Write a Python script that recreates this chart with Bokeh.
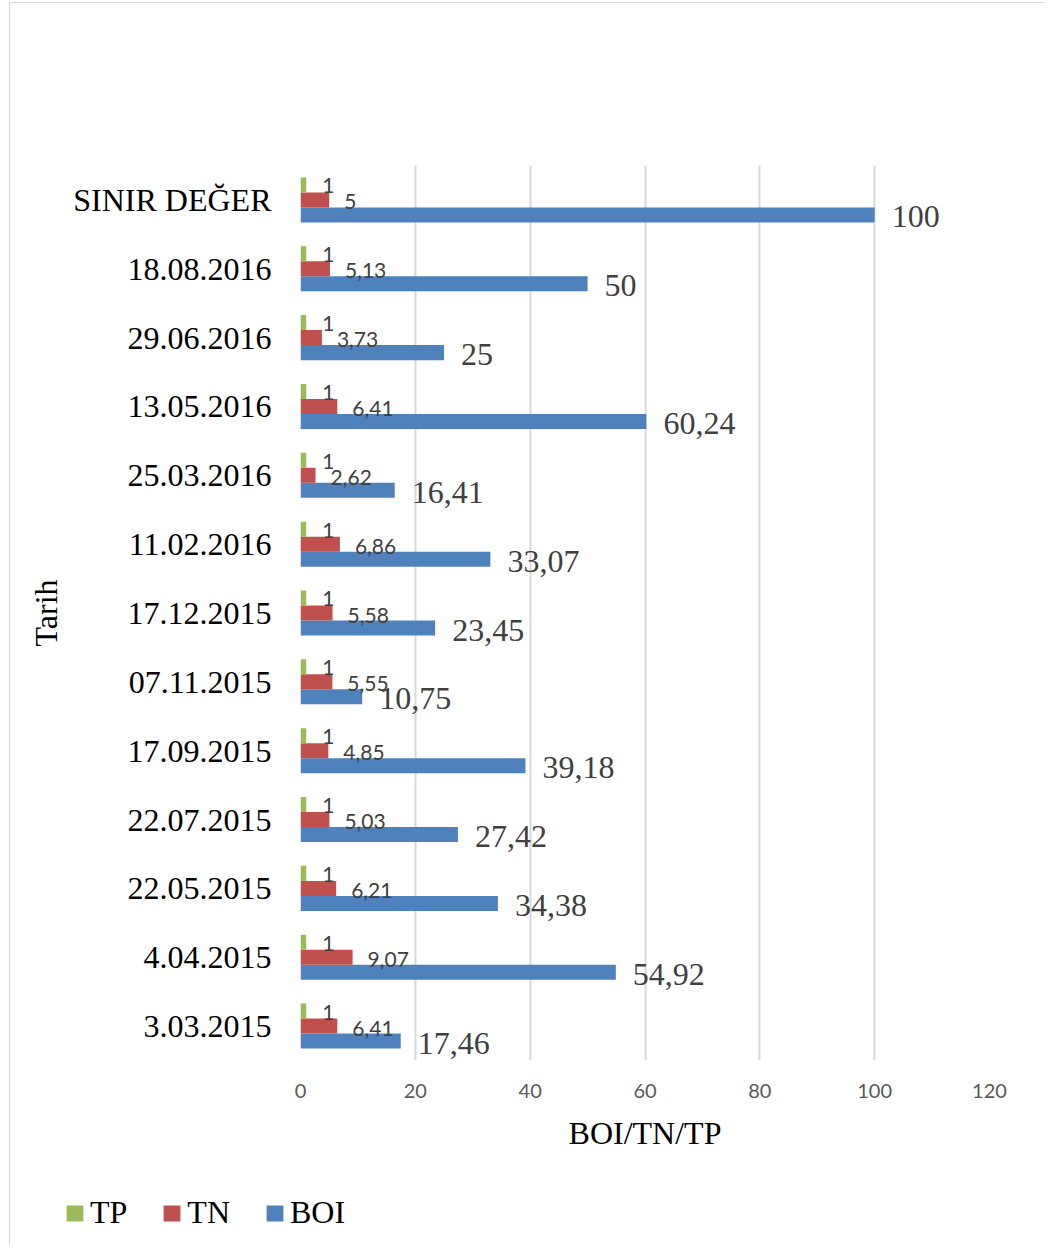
from bokeh.plotting import figure
from bokeh.layouts import column
from bokeh.models import (Range1d, FixedTicker, Legend, LegendItem, ColumnDataSource)
from bokeh.core.properties import value
from bokeh.embed import file_html
from bokeh.resources import INLINE

# ---- data (bottom to top) ----
categories = ["3.03.2015", "4.04.2015", "22.05.2015", "22.07.2015", "17.09.2015",
              "07.11.2015", "17.12.2015", "11.02.2016", "25.03.2016", "13.05.2016",
              "29.06.2016", "18.08.2016", "SINIR DEĞER"]
boi = [17.46, 54.92, 34.38, 27.42, 39.18, 10.75, 23.45, 33.07, 16.41, 60.24, 25, 50, 100]
tn = [6.41, 9.07, 6.21, 5.03, 4.85, 5.55, 5.58, 6.86, 2.62, 6.41, 3.73, 5.13, 5]
tp = [1, 1, 1, 1, 1, 1, 1, 1, 1, 1, 1, 1, 1]
x_ticks = [0, 20, 40, 60, 80, 100, 120]
series = ["TP", "TN", "BOI"]

C_TP = "#9BBB59"
C_TN = "#C0504D"
C_BOI = "#4F81BD"
SERIF = "Liberation Serif"
SANS = "Lato"

def fmt(v):
    return ("%g" % v).replace(".", ",")

n = len(categories)
yc = [i + 0.5 for i in range(n)]
bh = 0.218

p = figure(width=1035, height=1182, output_backend="svg", toolbar_location=None,
           x_range=Range1d(0, 120), y_range=Range1d(0, n),
           min_border_left=290, min_border_right=56, min_border_top=162, min_border_bottom=125)
p.outline_line_color = None
p.background_fill_color = "white"
p.border_fill_color = "white"

src = ColumnDataSource(dict(
    y=yc,
    y_tp=[v + bh for v in yc],
    y_boi=[v - bh for v in yc],
    boi=boi, tn=tn, tp=tp,
    boi_lbl=[fmt(v) for v in boi],
    tn_lbl=[fmt(v) for v in tn],
    tp_lbl=[fmt(v) for v in tp],
))

p.hbar(y="y_boi", height=bh, left=0, right="boi", source=src, color=C_BOI, line_color=None)
p.hbar(y="y", height=bh, left=0, right="tn", source=src, color=C_TN, line_color=None)
p.hbar(y="y_tp", height=bh, left=0, right="tp", source=src, color=C_TP, line_color=None)

p.text(x="boi", y="y_boi", text="boi_lbl", source=src, x_offset=17, y_offset=2,
       text_font=value(SERIF), text_font_size="32px", text_color="#404040",
       text_baseline="middle", text_align="left")
p.text(x="tn", y="y", text="tn_lbl", source=src, x_offset=15, y_offset=2,
       text_font=value(SANS), text_font_size="21px", text_color="#404040",
       text_baseline="middle", text_align="left")
p.text(x="tp", y="y_tp", text="tp_lbl", source=src, x_offset=16, y_offset=1,
       text_font=value(SANS), text_font_size="21px", text_color="#404040",
       text_baseline="middle", text_align="left")

# grid
p.xgrid.ticker = FixedTicker(ticks=x_ticks)
p.xgrid.grid_line_color = "#d9d9d9"
p.xgrid.grid_line_width = 2
p.ygrid.grid_line_color = None

# x axis
xa = p.xaxis[0]
xa.ticker = FixedTicker(ticks=x_ticks)
xa.axis_line_color = None
xa.major_tick_line_color = None
xa.minor_tick_line_color = None
xa.major_label_text_font = SANS
xa.major_label_text_font_size = "20px"
xa.major_label_text_color = "#595959"
xa.major_label_standoff = 17
xa.axis_label = "BOI/TN/TP"
xa.axis_label_text_font = SERIF
xa.axis_label_text_font_size = "32px"
xa.axis_label_text_font_style = "normal"
xa.axis_label_text_color = "black"
xa.axis_label_standoff = 14

# y axis
ya = p.yaxis[0]
ya.ticker = FixedTicker(ticks=yc)
ya.major_label_overrides = {v: c for v, c in zip(yc, categories)}
ya.axis_line_color = None
ya.major_tick_line_color = None
ya.minor_tick_line_color = None
ya.major_tick_out = 0
ya.major_label_standoff = 29
ya.major_label_text_font = SERIF
ya.major_label_text_font_size = "32px"
ya.major_label_text_color = "black"
ya.axis_label = "Tarih"
ya.axis_label_text_font = SERIF
ya.axis_label_text_font_size = "32px"
ya.axis_label_text_font_style = "normal"
ya.axis_label_text_color = "black"
ya.axis_label_standoff = 6

# ---- legend in its own strip below ----
lf = figure(width=1035, height=60, output_backend="svg", toolbar_location=None,
            x_range=Range1d(0, 1), y_range=Range1d(0, 1),
            x_axis_location=None, y_axis_location=None,
            min_border_left=0, min_border_right=0, min_border_top=0, min_border_bottom=0)
lf.frame_align = False
lf.outline_line_color = None
lf.grid.grid_line_color = None
items = []
for name, col in zip(series, [C_TP, C_TN, C_BOI]):
    r = lf.hbar(y=[-10], right=[-10], left=[-11], height=0.1, color=col, line_color=None)
    items.append(LegendItem(label=name, renderers=[r]))
legend = Legend(items=items, orientation="horizontal", location=(54, 14),
                padding=0, margin=0, spacing=34, glyph_width=21, glyph_height=20,
                label_standoff=5, label_text_font=SERIF, label_text_font_size="32px",
                label_text_color="black", border_line_color=None,
                background_fill_alpha=0)
lf.add_layout(legend, "center")

layout = column(p, lf, spacing=0)
layout.styles = {"border-left": "1px solid #d9d9d9", "border-top": "1px solid #d9d9d9",
                 "margin-left": "9px", "margin-top": "2px"}

open("out.html", "w").write(file_html(layout, INLINE))
